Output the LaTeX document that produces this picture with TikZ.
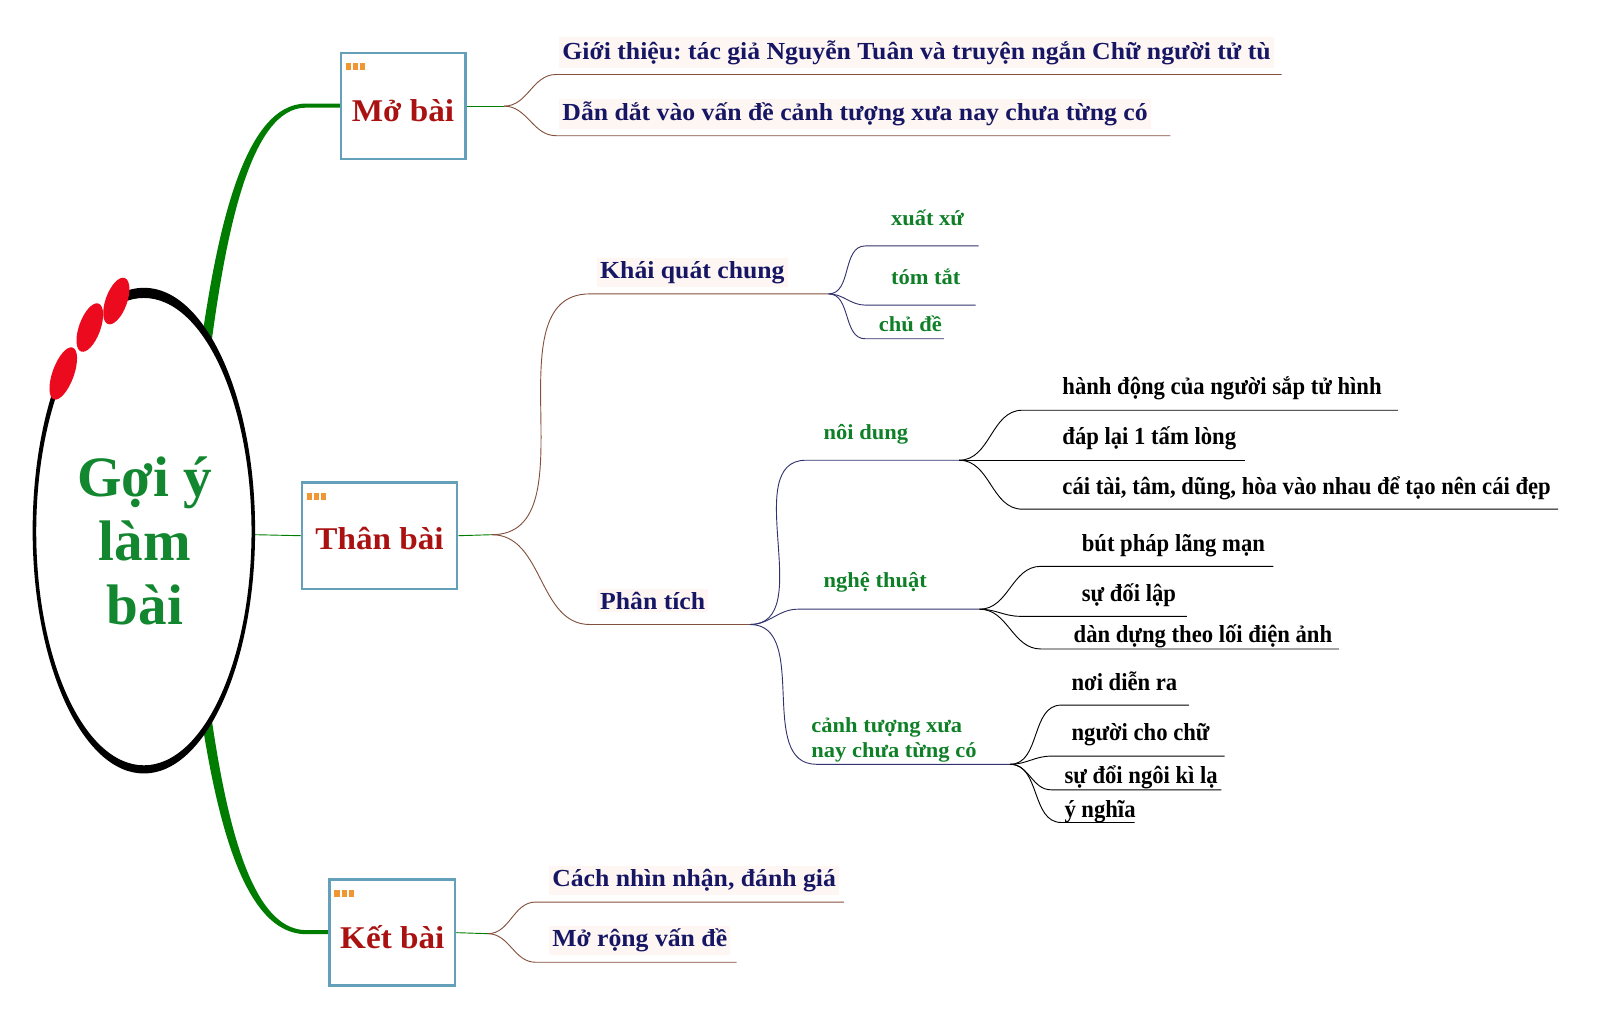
\documentclass[tikz,border=0pt]{standalone}
\usepackage{fontspec}
\setmainfont{Liberation Serif}
\newfontfamily\condfont{Liberation Serif}[FakeStretch=0.925]
\newfontfamily\widefont{Liberation Serif}[FakeStretch=1.05]
\frenchspacing
\usetikzlibrary{calc}
\definecolor{navyc}{RGB}{22,22,100}
\definecolor{darkredc}{RGB}{170,18,18}
\definecolor{leafgreen}{RGB}{16,128,40}
\definecolor{titlegreen}{RGB}{18,135,48}
\definecolor{branchgreen}{RGB}{0,125,0}
\definecolor{boxblue}{RGB}{100,160,185}
\definecolor{dotorange}{RGB}{240,150,50}
\definecolor{brownc}{RGB}{130,80,60}
\definecolor{navyline}{RGB}{50,50,110}
\definecolor{bgpink}{RGB}{253,246,243}
\definecolor{dotred}{RGB}{235,10,30}
\begin{document}
\begin{tikzpicture}[x=1pt,y=-1pt,
  navytext/.style={text=navyc, font=\widefont\fontsize{24}{28}\selectfont\bfseries, fill=bgpink, inner sep=3pt, anchor=base west},
  greenleaf/.style={text=leafgreen, font=\widefont\fontsize{21}{25}\selectfont\bfseries, inner sep=0pt, anchor=base west},
  blackleaf/.style={text=black, font=\condfont\fontsize{24}{27}\selectfont\bfseries, inner sep=0pt, anchor=base west},
  boxst/.style={draw=boxblue, line width=2.5pt, fill=white, minimum height=104pt, text=darkredc, font=\widefont\fontsize{31}{34}\selectfont\bfseries, inner sep=0pt},
  thinbr/.style={brownc, line width=0.9pt},
  navybr/.style={navyline, line width=0.9pt},
  blackbr/.style={black, line width=0.9pt},
  greenbr/.style={branchgreen, line width=0.9pt},
  odot/.style={fill=dotorange}
]
\useasboundingbox (0,0) rectangle (1568,1001);
% ---------- thick green branches ----------
\fill[branchgreen] (334,101.5) -- (300,101.5) .. controls (238,101.5) and (212,230) .. (196,345)
   -- (206,345) .. controls (221,230) and (245,105) .. (300,105.5) -- (334,105.5) -- cycle;
\fill[branchgreen] (323,911.5) -- (300,911.5) .. controls (245,911.5) and (221,800) .. (206,695)
   -- (196,695) .. controls (212,800) and (238,915.5) .. (300,915.5) -- (323,915.5) -- cycle;
% ---------- central ellipse ----------
\fill[white] (141,520) ellipse [x radius=108, y radius=237];
\fill[black, even odd rule] (141,520) ellipse [x radius=109, y radius=238]
   (141,521) ellipse [x radius=105.5, y radius=229];
\fill[white] (116,298) -- (121,262) -- (25,330) -- (60,368) -- cycle;
\fill[dotred, rotate around={-20:(62,366)}] (62,366) ellipse [x radius=10.5, y radius=27];
\fill[dotred, rotate around={-20:(88,321)}] (88,321) ellipse [x radius=10.5, y radius=25];
\fill[dotred, rotate around={-20:(114,295)}] (114,295) ellipse [x radius=10.5, y radius=24];
\node[text=titlegreen, font=\fontsize{56}{63}\selectfont\bfseries, align=center] (center) at (142,530) {Gợi ý\\làm\\bài};
\coordinate (cright) at (250,524);
% ---------- level 1 boxes ----------
\node[boxst, minimum width=122pt] (mo) at (395,104) {\raisebox{-4pt}[\height][\depth]{Mở bài}};
\node[boxst, minimum width=152pt] (than) at (372,525) {\raisebox{-3pt}[\height][\depth]{Thân bài}};
\node[boxst, minimum width=123pt] (ket) at (384.5,914) {\raisebox{-4pt}[\height][\depth]{Kết bài}};
\foreach \b in {mo,than,ket}{
  \fill[odot] ($(\b.north west)+(6,11)$) rectangle +(5,7);
  \fill[odot] ($(\b.north west)+(13,11)$) rectangle +(5,7);
  \fill[odot] ($(\b.north west)+(20,11)$) rectangle +(5,7);
}
\draw[greenbr] (cright) -- (than.west);
% ---------- Mở bài ----------
\coordinate (moj) at (494,104);
\draw[greenbr] (mo.east) -- (moj);
\node[navytext] (gt) at (548,58) {Giới thiệu: tác giả Nguyễn Tuân và truyện ngắn Chữ người tử tù};
\node[navytext] (dd) at (548,118) {Dẫn dắt vào vấn đề cảnh tượng xưa nay chưa từng có};
\coordinate (gt1) at (545,73); \coordinate (gt2) at (1256,73);
\coordinate (dd1) at (545,133); \coordinate (dd2) at (1147,133);
\draw[thinbr] (moj) to[out=0,in=180] (gt1) -- (gt2);
\draw[thinbr] (moj) to[out=0,in=180] (dd1) -- (dd2);
% ---------- Thân bài ----------
\coordinate (thj) at (482,524);
\draw[greenbr] (than.east) -- (thj);
\node[navytext] (kq) at (585,273) {Khái quát chung};
\node[navytext] (pt) at (585,597) {Phân tích};
\coordinate (kq1) at (578,288); \coordinate (kq2) at (812,288);
\coordinate (pt1) at (578,612); \coordinate (pt2) at (735,612);
\draw[thinbr] (thj) to[out=0,in=180] (kq1) -- (kq2);
\draw[thinbr] (thj) to[out=0,in=180] (pt1) -- (pt2);
% Khái quát chung children
\node[greenleaf] (xx) at (873,221) {xuất xứ};
\node[greenleaf] (tt) at (873,279) {tóm tắt};
\node[greenleaf] (cd) at (861,325) {chủ đề};
\coordinate (xx1) at (848,241); \coordinate (xx2) at (959,241);
\coordinate (tt1) at (848,299); \coordinate (tt2) at (956,299);
\coordinate (cd1) at (848,332); \coordinate (cd2) at (925,332);
\draw[navybr] (kq2) to[out=0,in=180] (xx1) -- (xx2);
\draw[navybr] (kq2) to[out=0,in=180] (tt1) -- (tt2);
\draw[navybr] (kq2) to[out=0,in=180] (cd1) -- (cd2);
% Phân tích children
\node[greenleaf] (nd) at (807,431) {nôi dung};
\node[greenleaf] (nt) at (807,576) {nghệ thuật};
\node[greenleaf, align=left, font=\widefont\fontsize{21}{25}\selectfont\bfseries, anchor=north west] (ct) at (795,703) {cảnh tượng xưa\\nay chưa từng có};
\coordinate (nd1) at (790,451); \coordinate (nd2) at (940,451);
\coordinate (nt1) at (782,597); \coordinate (nt2) at (960,597);
\coordinate (ct1) at (800,749); \coordinate (ct2) at (990,749);
\draw[navybr] (pt2) to[out=0,in=180] (nd1) -- (nd2);
\draw[navybr] (pt2) to[out=0,in=180] (nt1) -- (nt2);
\draw[navybr] (pt2) to[out=0,in=180] (ct1) -- (ct2);
% nội dung children
\node[blackleaf] (a1) at (1041,387) {hành động của người sắp tử hình};
\node[blackleaf] (a2) at (1041,436) {đáp lại 1 tấm lòng};
\node[blackleaf] (a3) at (1041,485) {cái tài, tâm, dũng, hòa vào nhau để tạo nên cái đẹp};
\coordinate (a1s) at (1002,402); \coordinate (a1e) at (1370,402);
\coordinate (a2s) at (990,451); \coordinate (a2e) at (1220,451);
\coordinate (a3s) at (1002,499); \coordinate (a3e) at (1527,499);
\draw[blackbr] (nd2) to[out=0,in=180] (a1s) -- (a1e);
\draw[blackbr] (nd2) -- (a2s) -- (a2e);
\draw[blackbr] (nd2) to[out=0,in=180] (a3s) -- (a3e);
% nghệ thuật children
\node[blackleaf] (b1) at (1060,540) {bút pháp lãng mạn};
\node[blackleaf] (b2) at (1060,589) {sự đối lập};
\node[blackleaf] (b3) at (1052,630) {dàn dựng theo lối điện ảnh};
\coordinate (b1s) at (1020,555); \coordinate (b1e) at (1248,555);
\coordinate (b2s) at (1000,604); \coordinate (b2e) at (1163,604);
\coordinate (b3s) at (1020,636); \coordinate (b3e) at (1312,636);
\draw[blackbr] (nt2) to[out=0,in=180] (b1s) -- (b1e);
\draw[blackbr] (nt2) to[out=0,in=180] (b2s) -- (b2e);
\draw[blackbr] (nt2) to[out=0,in=180] (b3s) -- (b3e);
% cảnh tượng children
\node[blackleaf] (c1) at (1050,677) {nơi diễn ra};
\node[blackleaf] (c2) at (1050,726) {người cho chữ};
\node[blackleaf] (c3) at (1043,768) {sự đổi ngôi kì lạ};
\node[blackleaf] (c4) at (1043,801) {ý nghĩa};
\coordinate (c1s) at (1040,691); \coordinate (c1e) at (1165,691);
\coordinate (c2s) at (1030,741); \coordinate (c2e) at (1200,741);
\coordinate (c3s) at (1030,774); \coordinate (c3e) at (1197,774);
\coordinate (c4s) at (1040,806); \coordinate (c4e) at (1112,806);
\draw[blackbr] (ct2) to[out=0,in=180] (c1s) -- (c1e);
\draw[blackbr] (ct2) to[out=0,in=180] (c2s) -- (c2e);
\draw[blackbr] (ct2) to[out=0,in=180] (c3s) -- (c3e);
\draw[blackbr] (ct2) to[out=0,in=180] (c4s) -- (c4e);
% ---------- Kết bài ----------
\coordinate (kj) at (478,915);
\draw[greenbr] (ket.east) -- (kj);
\node[navytext] (cn) at (538,869) {Cách nhìn nhận, đánh giá};
\node[navytext] (mr) at (538,928) {Mở rộng vấn đề};
\coordinate (cn1) at (525,884); \coordinate (cn2) at (827,884);
\coordinate (mr1) at (525,943); \coordinate (mr2) at (722,943);
\draw[thinbr] (kj) to[out=0,in=180] (cn1) -- (cn2);
\draw[thinbr] (kj) to[out=0,in=180] (mr1) -- (mr2);
\end{tikzpicture}
\end{document}
